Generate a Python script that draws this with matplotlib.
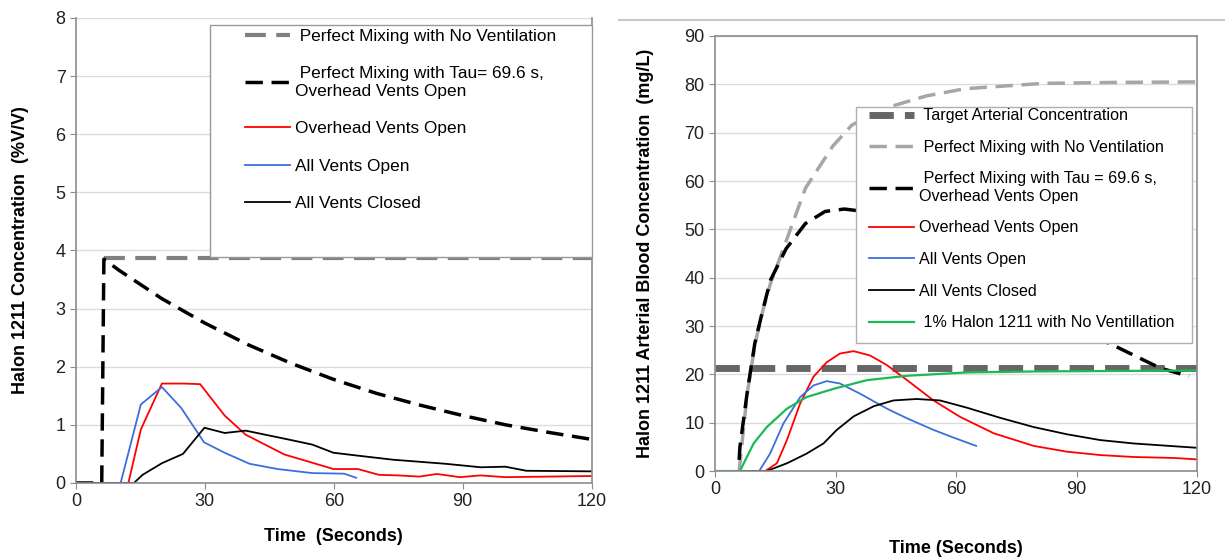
import matplotlib
matplotlib.use("Agg")
import matplotlib.pyplot as plt
from matplotlib.lines import Line2D
from matplotlib.patches import Rectangle

plt.rcParams['font.family'] = ['Liberation Sans', 'DejaVu Sans']

# ---------------- Left panel data (% V/V) ----------------
L_nv_t = [6.5, 120]
L_nv_y = [3.87, 3.87]

L_tau_t = [0, 6, 6.5, 10, 20, 30, 40, 50, 60, 70, 80, 90, 100, 110, 120]
L_tau_y = [0, 0, 3.85, 3.66, 3.17, 2.75, 2.38, 2.06, 1.78, 1.54, 1.34, 1.16, 1.00, 0.87, 0.75]

L_red_t = [0, 12.2, 15.1, 20, 25, 28.9, 34.6, 39.5, 44, 48.5, 54, 59.9, 65.6, 70.5, 75, 79.9, 84, 89.3, 94.2, 99.9, 110, 120]
L_red_y = [0, 0, 0.92, 1.71, 1.71, 1.70, 1.16, 0.83, 0.66, 0.49, 0.37, 0.24, 0.24, 0.14, 0.13, 0.11, 0.155, 0.10, 0.13, 0.10, 0.11, 0.12]

L_blue_t = [0, 10.4, 15.1, 20, 24.5, 29.8, 34.6, 40.4, 46.9, 55, 62.4, 65.2]
L_blue_y = [0, 0, 1.35, 1.65, 1.29, 0.70, 0.52, 0.33, 0.24, 0.17, 0.16, 0.09]

L_blk_t = [0, 13.5, 15.5, 20, 24.9, 29.9, 34.6, 39.5, 49.3, 55, 59.9, 65.6, 73.8, 86, 94.2, 99.9, 104.8, 120]
L_blk_y = [0, 0, 0.14, 0.34, 0.50, 0.95, 0.86, 0.90, 0.75, 0.66, 0.52, 0.47, 0.40, 0.33, 0.27, 0.28, 0.21, 0.20]

# ---------------- Right panel data (mg/L) ----------------
R_target_t = [0, 120]
R_target_y = [21.4, 21.4]

R_nv_t = [6, 8, 10, 12, 13.8, 16.7, 22.5, 29.3, 34.1, 42.9, 52.6, 62.3, 81.7, 100, 120]
R_nv_y = [0, 16, 26.5, 33.5, 38.8, 45.3, 58.5, 67.2, 71.6, 75.2, 77.6, 79.1, 80.2, 80.4, 80.5]

R_tau_t = [6, 6.2, 8, 9.9, 11.8, 13.8, 17.7, 22.5, 27.4, 32.2, 35.1, 40, 50, 60, 70, 80, 90, 98.2, 110.8, 118]
R_tau_y = [2.3, 5, 16.2, 26.4, 33, 39.5, 46, 51.2, 53.7, 54.2, 53.9, 52, 46.5, 41.5, 36.5, 32.5, 29, 26.4, 21.3, 19.6]

R_red_t = [0, 12.5, 15.4, 17.9, 21.2, 24.5, 27.8, 31.1, 34.5, 38.6, 42.8, 47.8, 54.4, 61, 69.4, 79.3, 87.6, 95.9, 104.2, 114.2, 120]
R_red_y = [0, 0, 1.6, 6.4, 14, 19.5, 22.5, 24.3, 24.8, 23.9, 21.9, 18.8, 14.6, 11.2, 7.8, 5.2, 4.0, 3.3, 2.9, 2.7, 2.4]

R_blue_t = [0, 11, 13.7, 17, 21.2, 24.5, 27.8, 31.1, 36.1, 42.8, 47.8, 54.4, 59.4, 65]
R_blue_y = [0, 0, 3.6, 9.8, 15.3, 17.7, 18.6, 18.1, 16, 12.9, 10.9, 8.5, 6.9, 5.2]

R_blk_t = [0, 12.9, 17.9, 22.8, 27, 30.3, 34.5, 39.5, 44.4, 50.2, 56, 62.7, 71, 79.3, 87.6, 95.9, 104.2, 120]
R_blk_y = [0, 0, 1.6, 3.6, 5.7, 8.5, 11.3, 13.4, 14.6, 14.9, 14.6, 13.1, 11.0, 9.1, 7.6, 6.4, 5.7, 4.8]

R_grn_t = [0, 6.2, 9.6, 12.9, 17.9, 22.8, 29.5, 37.8, 47.8, 62.7, 80, 100, 120]
R_grn_y = [0, 0, 5.7, 9.1, 12.9, 15.3, 17.0, 18.8, 19.7, 20.4, 20.6, 20.7, 20.8]

x_ticks = [0, 30, 60, 90, 120]

fig = plt.figure(figsize=(12.25, 5.59), dpi=100)
axL = fig.add_axes([0.062, 0.136, 0.421, 0.832])
axR = fig.add_axes([0.5837, 0.1574, 0.3935, 0.7782])

SP = '#8c8c8c'
GRID = '#dcdcdc'
FS = 13

def style(ax, ymax, ystep):
    ax.set_xlim(0, 120)
    ax.set_ylim(0, ymax)
    ax.set_xticks(x_ticks)
    ax.set_yticks(range(0, ymax + 1, ystep))
    ax.tick_params(labelsize=FS, colors='#222222', length=4, color=SP)
    ax.grid(axis='y', color=GRID, lw=1)
    ax.set_axisbelow(True)
    for s in ax.spines.values():
        s.set_color(SP)
        s.set_linewidth(1.2)

# ---------- Left ----------
style(axL, 8, 1)
axL.spines['top'].set_visible(False)
l1, = axL.plot(L_nv_t, L_nv_y, color='#808080', lw=3, dashes=(5, 2.5), label=' Perfect Mixing with No Ventilation')
l2, = axL.plot(L_tau_t, L_tau_y, color='black', lw=2.5, dashes=(5, 2.5), label=' Perfect Mixing with Tau= 69.6 s,\nOverhead Vents Open')
l3, = axL.plot(L_red_t, L_red_y, color='#ff0000', lw=1.3, label='Overhead Vents Open')
l4, = axL.plot(L_blue_t, L_blue_y, color='#3c6fdc', lw=1.3, label='All Vents Open')
l5, = axL.plot(L_blk_t, L_blk_y, color='black', lw=1.3, label='All Vents Closed')
axL.set_xlabel('Time  (Seconds)', fontsize=FS, fontweight='bold', labelpad=13)
axL.set_ylabel('Halon 1211 Concentration  (%V/V)', fontsize=FS, fontweight='bold', labelpad=19)

axL.add_patch(Rectangle((0.26, 0.486), 0.74, 0.499, transform=axL.transAxes, facecolor='white',
                        edgecolor='#999999', lw=1.0, zorder=4, clip_on=False))
legL = axL.legend(handles=[l1, l2, l3, l4, l5], loc='upper left', bbox_to_anchor=(0.3275, 0.977),
                  fontsize=12.4, frameon=False, handlelength=2.6, handletextpad=0.3,
                  labelspacing=1.31, borderpad=0, borderaxespad=0)
legL.set_zorder(5)

# ---------- Right ----------
style(axR, 90, 10)
r0, = axR.plot(R_target_t, R_target_y, color='#666666', lw=5, dashes=(3.5, 1.6), label=' Target Arterial Concentration')
r1, = axR.plot(R_nv_t, R_nv_y, color='#a6a6a6', lw=2.5, dashes=(5, 2.5), label=' Perfect Mixing with No Ventilation')
r2, = axR.plot(R_tau_t, R_tau_y, color='black', lw=2.5, dashes=(5, 2.5), label=' Perfect Mixing with Tau = 69.6 s,\nOverhead Vents Open')
r3, = axR.plot(R_red_t, R_red_y, color='#ff0000', lw=1.3, label='Overhead Vents Open')
r4, = axR.plot(R_blue_t, R_blue_y, color='#3c6fdc', lw=1.3, label='All Vents Open')
r5, = axR.plot(R_blk_t, R_blk_y, color='black', lw=1.3, label='All Vents Closed')
r6, = axR.plot(R_grn_t, R_grn_y, color='#1db954', lw=1.6, label=' 1% Halon 1211 with No Ventillation')
axR.set_xlabel('Time (Seconds)', fontsize=FS, fontweight='bold', labelpad=30)
axR.set_ylabel('Halon 1211 Arterial Blood Concentration  (mg/L)', fontsize=FS, fontweight='bold', labelpad=22)

axR.add_patch(Rectangle((0.2925, 0.294), 0.697, 0.543, transform=axR.transAxes, facecolor='white',
                        edgecolor='#b0b0b0', lw=1.0, zorder=4))
legR = axR.legend(handles=[r0, r1, r2, r3, r4, r5, r6], loc='upper left', bbox_to_anchor=(0.3195, 0.834),
                  fontsize=11.6, frameon=False, handlelength=2.8, handletextpad=0.3,
                  labelspacing=1.03, borderpad=0, borderaxespad=0)
legR.set_zorder(5)

# separator line at top of right panel
fig.add_artist(Line2D([0.505, 1.0], [1 - 20 / 559, 1 - 20 / 559], color='#c8c8c8', lw=1.5))

fig.savefig('out.png', dpi=100)
